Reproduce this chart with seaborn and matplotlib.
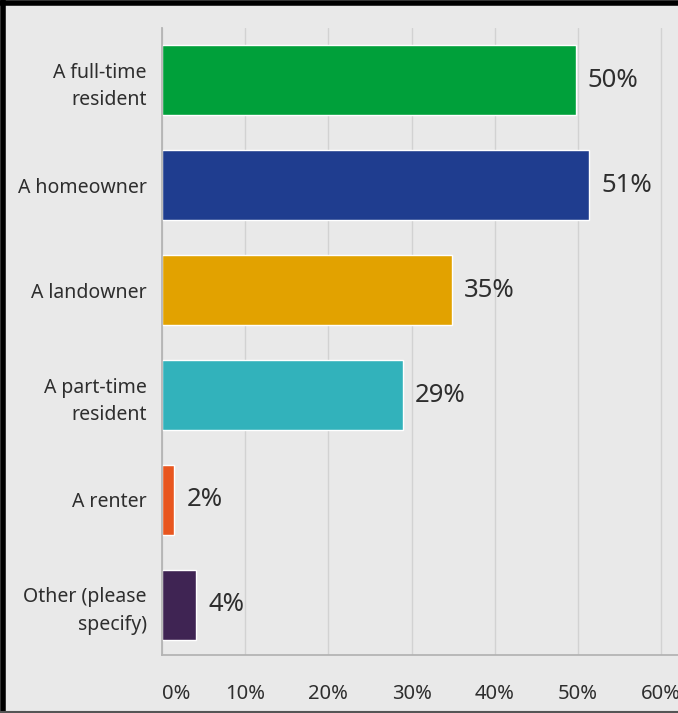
import matplotlib
matplotlib.use("Agg")
import matplotlib.pyplot as plt
import matplotlib.transforms as mtransforms
from matplotlib.lines import Line2D
import seaborn as sns
import pandas as pd

categories = ["A full-time\nresident", "A homeowner", "A landowner",
              "A part-time\nresident", "A renter", "Other (please\nspecify)"]
values = [49.7, 51.3, 34.8, 28.9, 1.5, 4.1]
bar_colors = ["#00a03a", "#1f3d8f", "#e2a200", "#32b2bb", "#e8561f", "#3f2453"]
tick_values = [0, 10, 20, 30, 40, 50, 60]
tick_labels = ["0%", "10%", "20%", "30%", "40%", "50%", "60%"]

df = pd.DataFrame({"category": categories, "value": values})

sns.set_theme(style="white")
plt.rcParams["font.family"] = ["Noto Sans", "DejaVu Sans"]

bg = "#e9e9e9"
fig = plt.figure(figsize=(6.78, 7.13), dpi=100, facecolor=bg)
ax = fig.add_axes([0.2389, 0.0813, 0.7611, 0.8794])
ax.set_facecolor(bg)

sns.barplot(data=df, y="category", x="value", hue="category",
            palette=bar_colors, orient="h", width=0.667,
            legend=False, saturation=1, ax=ax)

ax.set_xlim(0, 62)
ax.set_ylim(5.48, -0.5)
ax.set_xticks(tick_values)
ax.set_xticklabels(tick_labels)
ax.set_xlabel("")
ax.set_ylabel("")
ax.grid(axis="x", color="#d2d2d2", linewidth=1)
ax.set_axisbelow(True)

for side in ["top", "right"]:
    ax.spines[side].set_visible(False)
for side in ["left", "bottom"]:
    ax.spines[side].set_color("#b4b4b4")
    ax.spines[side].set_linewidth(1.3)

ax.tick_params(axis="x", length=0, pad=21, labelsize=14.5, colors="#2e2e2e")
ax.tick_params(axis="y", length=0, pad=11, labelsize=14, colors="#2e2e2e")
for lab in ax.get_xticklabels() + ax.get_yticklabels():
    lab.set_fontweight("medium")
for lab in ax.get_yticklabels():
    lab.set_horizontalalignment("right")
    lab.set_multialignment("right")
    lab.set_linespacing(1.5)

# nudge the 0% label off the axis line
first = ax.get_xticklabels()[0]
first.set_transform(first.get_transform() +
                    mtransforms.ScaledTranslation(0.14, 0, fig.dpi_scale_trans))

for i, v in enumerate(values):
    ax.text(v + 1.45, i, f"{v:.0f}%", va="center", ha="left",
            fontsize=18.5, color="#2e2e2e")

# frame around the figure
fig.add_artist(Line2D([0.004, 0.004], [0, 1], transform=fig.transFigure,
                      color="black", linewidth=4))
fig.add_artist(Line2D([0, 1], [0.996, 0.996], transform=fig.transFigure,
                      color="black", linewidth=4))
fig.add_artist(Line2D([0, 1], [0.002, 0.002], transform=fig.transFigure,
                      color="#555555", linewidth=1.5))

fig.savefig("out.png", dpi=100, facecolor=bg)
